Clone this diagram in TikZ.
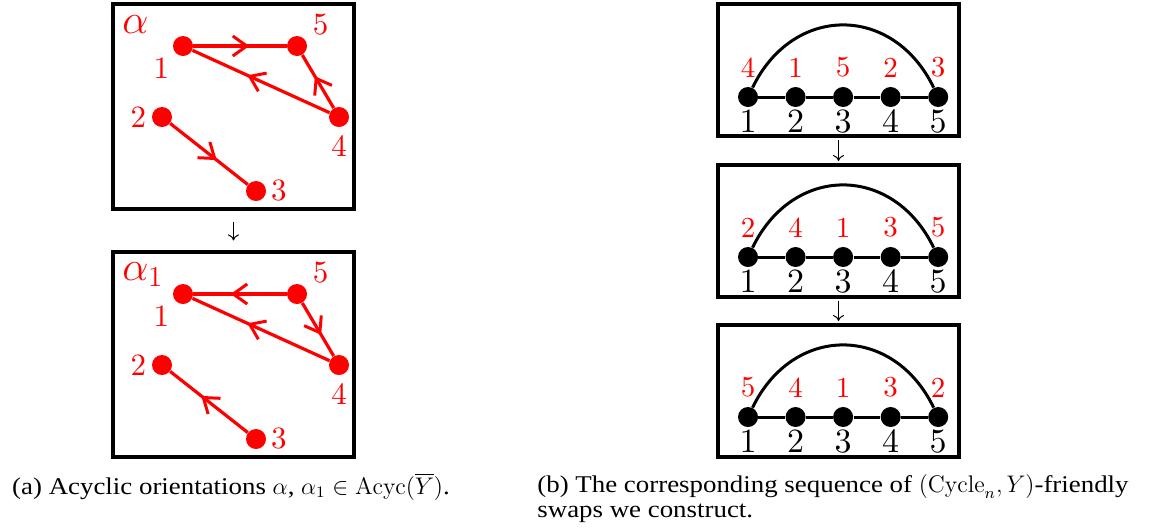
\documentclass[tikz,border=0pt]{standalone}
\usepackage{fontspec}
\usepackage{amsmath}
\usepackage{tikz}
\usetikzlibrary{arrows.meta, positioning, decorations.markings}
\newfontfamily\capfont[FakeStretch=1.12]{Liberation Serif}
\newfontfamily\lmten{lmroman10-regular}[Extension=.otf]
\definecolor{vxred}{RGB}{255,0,0}
\tikzset{
    frame/.style={rectangle, draw=black, line width=1.6pt, minimum width=120.5pt,
                  inner sep=0pt},
    rvert/.style={circle, fill=vxred, minimum size=10pt, inner sep=0pt},
    bvert/.style={circle, fill=black, minimum size=10pt, inner sep=0pt},
    rlbl/.style={text=vxred, font=\lmten\fontsize{15.5}{18}\selectfont, inner sep=1pt},
    toplbl/.style={text=vxred, font=\lmten\fontsize{14.5}{17}\selectfont, inner sep=1pt,
                   label distance=3.3pt},
    botlbl/.style={text=black, font=\lmten\fontsize{17}{20}\selectfont, inner sep=1pt,
                   label distance=0pt},
    orilbl/.style={text=vxred, font=\fontsize{20}{24}\selectfont, inner sep=0pt,
                   anchor=base west},
    oriented/.style={draw=vxred, line width=1.6pt, postaction={decorate},
                     decoration={markings,
                       mark=at position 0.6 with {\arrow[vxred, line width=1.5pt]{Straight Barb[length=7pt,width=10pt]}}}},
    swaparrow/.style={-{To[length=3pt,width=5.5pt]}, line width=0.5pt},
    pathedge/.style={draw=black, line width=1.5pt},
    capt/.style={font=\capfont\fontsize{12}{12.5}\selectfont, inner sep=0pt},
}
\begin{document}
\begin{tikzpicture}[x=0.5pt, y=-0.5pt, node distance=13.375pt]
    \useasboundingbox (0,0) rectangle (1160,531);
    \node[frame, minimum height=102.5pt] (lbox1) at (233.5,106.5) {};
    \node[frame, minimum height=102.5pt] (lbox2) at (233.5,354.5) {};
    \draw[swaparrow, shorten <=5.5pt, shorten >=5pt] (lbox1) -- (lbox2);
    \node[orilbl] (alpha) at (122,33) {$\alpha$};
    \node[rvert, label={[rlbl, label distance=2.2pt]219:1}] (a1) at (183,46) {};
    \node[rvert, label={[rlbl, label distance=2.8pt]33:5}] (a5) at (297,46) {};
    \node[rvert, label={[rlbl, label distance=1.6pt]left:2}] (a2) at (162,117) {};
    \node[rvert, label={[rlbl, label distance=3pt]below:4}] (a4) at (339,117) {};
    \node[rvert, label={[rlbl, label distance=1.1pt]right:3}] (a3) at (256,191) {};
    \draw[oriented] (a1) -- (a5);
    \draw[oriented] (a4) -- (a5);
    \draw[oriented] (a4) -- (a1);
    \draw[oriented] (a2) -- (a3);
    \node[orilbl] (alpha1) at (122,280) {$\alpha_1$};
    \node[rvert, label={[rlbl, label distance=2.2pt]219:1}] (b1) at (183,294) {};
    \node[rvert, label={[rlbl, label distance=2.8pt]33:5}] (b5) at (297,294) {};
    \node[rvert, label={[rlbl, label distance=1.6pt]left:2}] (b2) at (162,365) {};
    \node[rvert, label={[rlbl, label distance=3pt]below:4}] (b4) at (339,365) {};
    \node[rvert, label={[rlbl, label distance=1.1pt]right:3}] (b3) at (256,439) {};
    \draw[oriented] (b5) -- (b1);
    \draw[oriented] (b5) -- (b4);
    \draw[oriented] (b4) -- (b1);
    \draw[oriented] (b3) -- (b2);
    \node[capt, anchor=base] (capa) at (231,494)
        {(a) Acyclic orientations $\alpha$, $\alpha_1\in\mathrm{Acyc}(\overline{Y})$.};

    \node[frame, minimum height=66pt] (rbox1) at (838.5,70) {};
    \node[frame, minimum height=66pt] (rbox2) at (838.5,231) {};
    \node[frame, minimum height=66pt] (rbox3) at (838.5,391) {};
    \draw[swaparrow, shorten <=1pt, shorten >=1.2pt] (rbox1) -- (rbox2);
    \draw[swaparrow, shorten <=1pt, shorten >=1.2pt] (rbox2) -- (rbox3);
    \node[bvert, label={[toplbl]above:4}, label={[botlbl]below:1}] (p11) at (748,97) {};
    \node[bvert, right=of p11, label={[toplbl]above:1}, label={[botlbl]below:2}] (p12) {};
    \node[bvert, right=of p12, label={[toplbl]above:5}, label={[botlbl]below:3}] (p13) {};
    \node[bvert, right=of p13, label={[toplbl]above:2}, label={[botlbl]below:4}] (p14) {};
    \node[bvert, right=of p14, label={[toplbl]above:3}, label={[botlbl]below:5}] (p15) {};
    \draw[pathedge] (p11) -- (p12) -- (p13) -- (p14) -- (p15);
    \draw[pathedge] (p11) .. controls +(45,-93) and +(-45,-93) .. (p15);
    \node[bvert, label={[toplbl]above:2}, label={[botlbl]below:1}] (p21) at (748,257) {};
    \node[bvert, right=of p21, label={[toplbl]above:4}, label={[botlbl]below:2}] (p22) {};
    \node[bvert, right=of p22, label={[toplbl]above:1}, label={[botlbl]below:3}] (p23) {};
    \node[bvert, right=of p23, label={[toplbl]above:3}, label={[botlbl]below:4}] (p24) {};
    \node[bvert, right=of p24, label={[toplbl]above:5}, label={[botlbl]below:5}] (p25) {};
    \draw[pathedge] (p21) -- (p22) -- (p23) -- (p24) -- (p25);
    \draw[pathedge] (p21) .. controls +(45,-93) and +(-45,-93) .. (p25);
    \node[bvert, label={[toplbl]above:5}, label={[botlbl]below:1}] (p31) at (748,417) {};
    \node[bvert, right=of p31, label={[toplbl]above:4}, label={[botlbl]below:2}] (p32) {};
    \node[bvert, right=of p32, label={[toplbl]above:1}, label={[botlbl]below:3}] (p33) {};
    \node[bvert, right=of p33, label={[toplbl]above:3}, label={[botlbl]below:4}] (p34) {};
    \node[bvert, right=of p34, label={[toplbl]above:2}, label={[botlbl]below:5}] (p35) {};
    \draw[pathedge] (p31) -- (p32) -- (p33) -- (p34) -- (p35);
    \draw[pathedge] (p31) .. controls +(45,-93) and +(-45,-93) .. (p35);
    \node[capt, anchor=north west, align=left] (capb) at (537,474)
        {(b) The corresponding sequence of $(\mathrm{Cycle}_n, Y)$-friendly\\swaps we construct.};
\end{tikzpicture}
\end{document}
